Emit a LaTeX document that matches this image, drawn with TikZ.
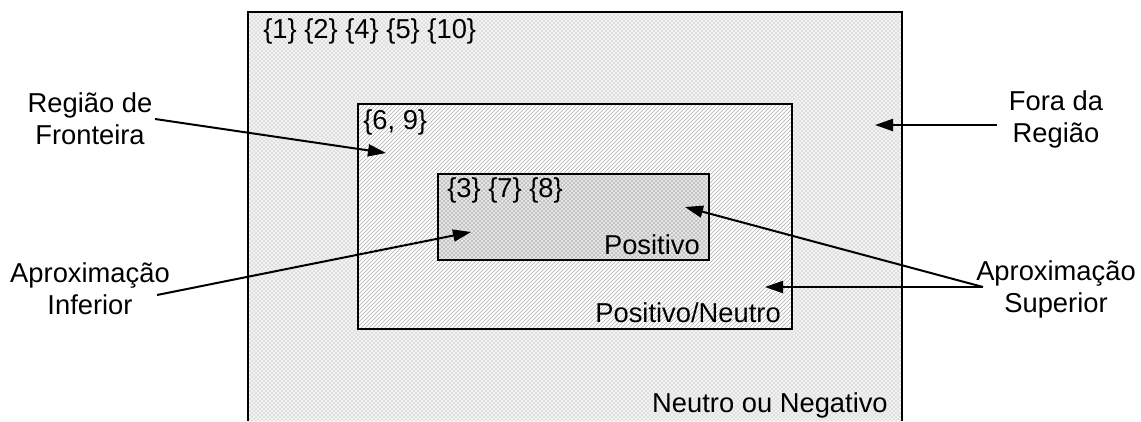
\documentclass[tikz,border=0pt]{standalone}
\usepackage{fontspec}
\setmainfont{Liberation Sans}
\usetikzlibrary{patterns,arrows.meta}
\begin{document}
\begin{tikzpicture}[x=0.75pt,y=-0.75pt,
  lbl/.style={inner sep=0pt,font=\fontsize{20.5}{24}\selectfont},
  mlbl/.style={lbl,align=center},
  arr/.style={line width=1.5pt,-{Triangle[length=13.5pt,width=9pt]}},
  box/.style={draw=black,line width=0.8pt}]
\useasboundingbox (0,0) rectangle (1141,421);
% outer region
\fill[gray!10] (248,12) rectangle (902,421);
\fill[pattern=crosshatch dots,pattern color=gray!70] (248,12) rectangle (902,421);
\draw[line width=0.8pt] (248,421) -- (248,12) -- (902,12) -- (902,421);
% middle region
\fill[white] (358,104) rectangle (792,329);
\fill[pattern=north east lines,pattern color=gray!65] (358,104) rectangle (792,329);
\draw[box] (358,104) rectangle (792,329);
% inner region
\fill[gray!15] (438,174) rectangle (709,260);
\fill[pattern=crosshatch,pattern color=gray!55] (438,174) rectangle (709,260);
\draw[box] (438,174) rectangle (709,260);
% texts inside
\node[lbl,anchor=west] (t1) at (263,31) {\{1\} \{2\} \{4\} \{5\} \{10\}};
\node[lbl,anchor=west] (t2) at (363,122) {\{6, 9\}};
\node[lbl,anchor=west] (t3) at (447,190) {\{3\} \{7\} \{8\}};
\node[lbl,anchor=east] (pos) at (700,245) {Positivo};
\node[lbl,anchor=east] (posn) at (781,313) {Positivo/Neutro};
\node[lbl,anchor=east] (neg) at (888,405) {Neutro ou Negativo};
% outside labels
\node[mlbl] (fronteira) at (90,119) {Região de\\Fronteira};
\node[mlbl] (fora) at (1056,119) {Fora da\\Região};
\node[mlbl] (inferior) at (90,289) {Aproximação\\Inferior};
\node[mlbl] (superior) at (1056,289) {Aproximação\\Superior};
% arrow ends
\coordinate (fs) at (155,119);
\coordinate (ft) at (386,153);
\coordinate (os) at (997,125);
\coordinate (ot) at (875,125);
\coordinate (is) at (157,295);
\coordinate (it) at (471,232);
\coordinate (ss) at (983,287);
\coordinate (st1) at (685,207);
\coordinate (st2) at (765,287);
\draw[arr] (fs) -- (ft);
\draw[arr] (os) -- (ot);
\draw[arr] (is) -- (it);
\draw[arr] (ss) -- (st1);
\draw[arr] (ss) -- (st2);
\end{tikzpicture}
\end{document}
